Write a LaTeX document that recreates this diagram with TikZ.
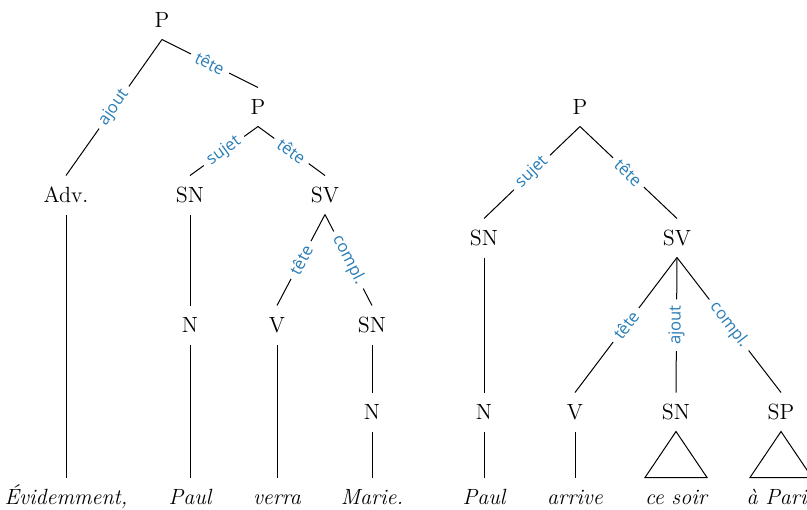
\documentclass[tikz,border=0pt]{standalone}
\usepackage{fontspec}
\usepackage{xcolor}
\newfontfamily\labfont{Open Sans}
\definecolor{labelblue}{RGB}{41,125,183}

\tikzset{
  cat/.style={font=\fontsize{11}{13}\selectfont, inner sep=5pt, text height=8pt, text depth=1pt},
  word/.style={cat, font=\fontsize{11}{13}\selectfont\itshape},
  lab/.style={midway, sloped, fill=white, inner sep=3pt, text=labelblue,
              font=\labfont\fontsize{8.3}{10}\selectfont},
}

\begin{document}
\begin{tikzpicture}[x=0.5pt, y=-0.5pt, line width=0.5pt]
				\useasboundingbox (0,0) rectangle (807,509);
				
				% first tree
				\node[cat] (p1) at (162,20) {P};
				\node[cat] (p2) at (258,107) {P};
				\node[cat] (adv) at (66,195) {Adv.};
				\node[cat] (sn1) at (190,195) {SN};
				\node[cat] (sv1) at (325,195) {SV};
				\node[cat] (n1) at (190,325) {N};
				\node[cat] (v1) at (277,325) {V};
				\node[cat] (sn2) at (372,325) {SN};
				\node[cat] (n2) at (372,412) {N};
				
				\node[word] (w1) at (66,497) {Évidemment,};
				\node[word] (w2) at (190,497) {Paul};
				\node[word] (w3) at (277,497) {verra};
				\node[word] (w4) at (372,497) {Marie.};
				
				\draw (p1.south) -- (adv.north) node[lab] {ajout};
				\draw (p1.south) -- (p2.north) node[lab] {tête};
				\draw (p2.south) -- (sn1.north) node[lab] {sujet};
				\draw (p2.south) -- (sv1.north) node[lab] {tête};
				\draw (sv1.south) -- (v1.north) node[lab] {tête};
				\draw (sv1.south) -- (sn2.north) node[lab] {compl.};
				
				\draw (adv.south) -- (w1.north);
				\draw (sn1.south) -- (n1.north);
				\draw (n1.south) -- (w2.north);
				\draw (v1.south) -- (w3.north);
				\draw (sn2.south) -- (n2.north);
				\draw (n2.south) -- (w4.north);
				
				% second tree
				\node[cat] (p3) at (580,107) {P};
				\node[cat] (sn3) at (484,238) {SN};
				\node[cat] (sv2) at (677,238) {SV};
				\node[cat] (n3) at (484,412) {N};
				\node[cat] (v2) at (575,412) {V};
				\node[cat] (sn4) at (676,412) {SN};
				\node[cat] (sp) at (781,412) {SP};
				
				\node[word] (w5) at (484,497) {Paul};
				\node[word] (w6) at (575,497) {arrive};
				\node[word] (w7) at (676,497) {ce soir};
				\node[word] (w8) at (781,497) {à Paris};
				
				\draw (p3.south) -- (sn3.north) node[lab] {sujet};
				\draw (p3.south) -- (sv2.north) node[lab] {tête};
				\draw (sv2.south) -- (v2.north) node[lab] {tête};
				\draw (sv2.south) -- (sn4.north) node[lab] {ajout};
				\draw (sv2.south) -- (sp.north) node[lab] {compl.};
				
				\draw (sn3.south) -- (n3.north);
				\draw (n3.south) -- (w5.north);
				\draw (v2.south) -- (w6.north);
				
				% roofs over the unanalysed phrases
				\draw (sn4.south) -- ([xshift=-15.5pt]w7.north) -- ([xshift=15.5pt]w7.north) -- cycle;
				\draw (sp.south) -- ([xshift=-15.5pt]w8.north) -- ([xshift=15.5pt]w8.north) -- cycle;
			\end{tikzpicture}
\end{document}
